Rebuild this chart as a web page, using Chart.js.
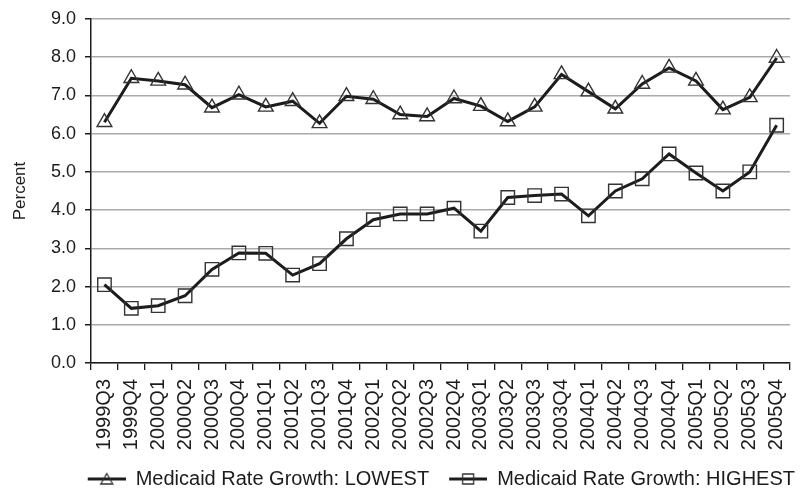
<!DOCTYPE html>
<html>
<head>
<meta charset="utf-8">
<script src="https://cdn.jsdelivr.net/npm/chart.js@4"></script>
<style>
  html, body { margin: 0; padding: 0; background: #fff; }
  #wrap { width: 801px; height: 493px; }
</style>
</head>
<body>
<div id="wrap"><canvas id="chart" width="801" height="493"></canvas></div>
<script>
// Quarterly Medicaid rate growth, percent
const quarters = [
  '1999Q3', '1999Q4', '2000Q1', '2000Q2', '2000Q3', '2000Q4', '2001Q1', '2001Q2', '2001Q3',
  '2001Q4', '2002Q1', '2002Q2', '2002Q3', '2002Q4', '2003Q1', '2003Q2', '2003Q3', '2003Q4',
  '2004Q1', '2004Q2', '2004Q3', '2004Q4', '2005Q1', '2005Q2', '2005Q3', '2005Q4'
];
const lowest = [
  6.30, 7.45, 7.38, 7.28, 6.68, 7.02, 6.70, 6.85, 6.27, 6.98, 6.90, 6.50, 6.45,
  6.92, 6.72, 6.32, 6.70, 7.55, 7.10, 6.65, 7.30, 7.72, 7.38, 6.63, 6.95, 7.98
];
const highest = [
  2.05, 1.43, 1.50, 1.76, 2.45, 2.88, 2.87, 2.30, 2.60, 3.25, 3.75, 3.90, 3.90,
  4.05, 3.45, 4.33, 4.38, 4.42, 3.85, 4.50, 4.82, 5.47, 4.97, 4.50, 5.00, 6.22
];
const seriesNames = ['Medicaid Rate Growth: LOWEST', 'Medicaid Rate Growth: HIGHEST'];

const INK = '#1c1c1c';
const FONT = "'Liberation Sans', Arial, sans-serif";

/* legend swatch: a line with the hollow marker in the middle.
   The left 17px stay blank so the items get the gap seen in the original. */
function legendSwatch(shape) {
  const c = document.createElement('canvas');
  c.width = 55; c.height = 16;
  const g = c.getContext('2d');
  g.strokeStyle = INK;
  g.lineWidth = 3;
  g.beginPath(); g.moveTo(17, 8); g.lineTo(55, 8); g.stroke();
  g.lineWidth = 1.3;
  g.strokeStyle = '#333';
  g.beginPath();
  if (shape === 'triangle') {
    g.moveTo(36, 2.5); g.lineTo(42, 13); g.lineTo(30, 13); g.closePath();
  } else {
    g.rect(30.5, 3, 11, 10);
  }
  g.stroke();
  return c;
}

const swatches = [legendSwatch('triangle'), legendSwatch('rect')];

const markerOpts = {
  borderColor: INK,
  borderWidth: 3,
  pointBackgroundColor: 'rgba(255,255,255,0)',
  pointBorderColor: '#333',
  pointBorderWidth: 1.4,
  tension: 0,
};

new Chart(document.getElementById('chart'), {
  type: 'line',
  data: {
    labels: quarters,
    datasets: [
      { label: seriesNames[0], data: lowest, pointStyle: 'triangle', pointRadius: 8.5, ...markerOpts },
      { label: seriesNames[1], data: highest, pointStyle: 'rect', pointRadius: 9.5, ...markerOpts },
    ],
  },
  options: {
    responsive: false,
    animation: false,
    layout: { padding: { top: 19, right: 3, left: 0, bottom: 1 } },
    plugins: {
      tooltip: { enabled: false },
      legend: {
        position: 'bottom',
        align: 'end',
        maxHeight: 26,
        labels: {
          color: INK,
          font: { family: FONT, size: 20 },
          usePointStyle: true,
          pointStyleWidth: 55,
          padding: 3,
          generateLabels: (chart) => chart.data.datasets.map((ds, i) => ({
            text: ds.label,
            pointStyle: swatches[i],
            fontColor: INK,
            strokeStyle: INK,
            fillStyle: '#fff',
            datasetIndex: i,
            hidden: false,
          })),
        },
      },
    },
    scales: {
      x: {
        offset: true,
        afterFit: (axis) => { axis.paddingLeft = 0; axis.paddingRight = 0; axis.height = 103; },
        grid: { display: true, drawOnChartArea: false, drawTicks: true, tickLength: 7, color: INK, lineWidth: 1.3, offset: true },
        border: { color: INK, width: 1.5 },
        ticks: { color: INK, font: { family: FONT, size: 20 }, minRotation: 90, maxRotation: 90, autoSkip: false, padding: 9 },
      },
      y: {
        min: 0,
        max: 9,
        afterFit: (axis) => { axis.width = 91; axis.paddingTop = 0; axis.paddingBottom = 0; },
        grid: { color: '#aaa', lineWidth: 1.5, tickLength: 6, tickColor: INK },
        border: { color: INK, width: 1.5 },
        title: { display: true, text: 'Percent', color: INK, font: { family: FONT, size: 17 }, padding: { top: 10, bottom: 4 } },
        ticks: {
          stepSize: 1,
          color: INK,
          font: { family: FONT, size: 18 },
          padding: 9,
          callback: (v) => v.toFixed(1),
        },
      },
    },
  },
});
</script>
</body>
</html>
